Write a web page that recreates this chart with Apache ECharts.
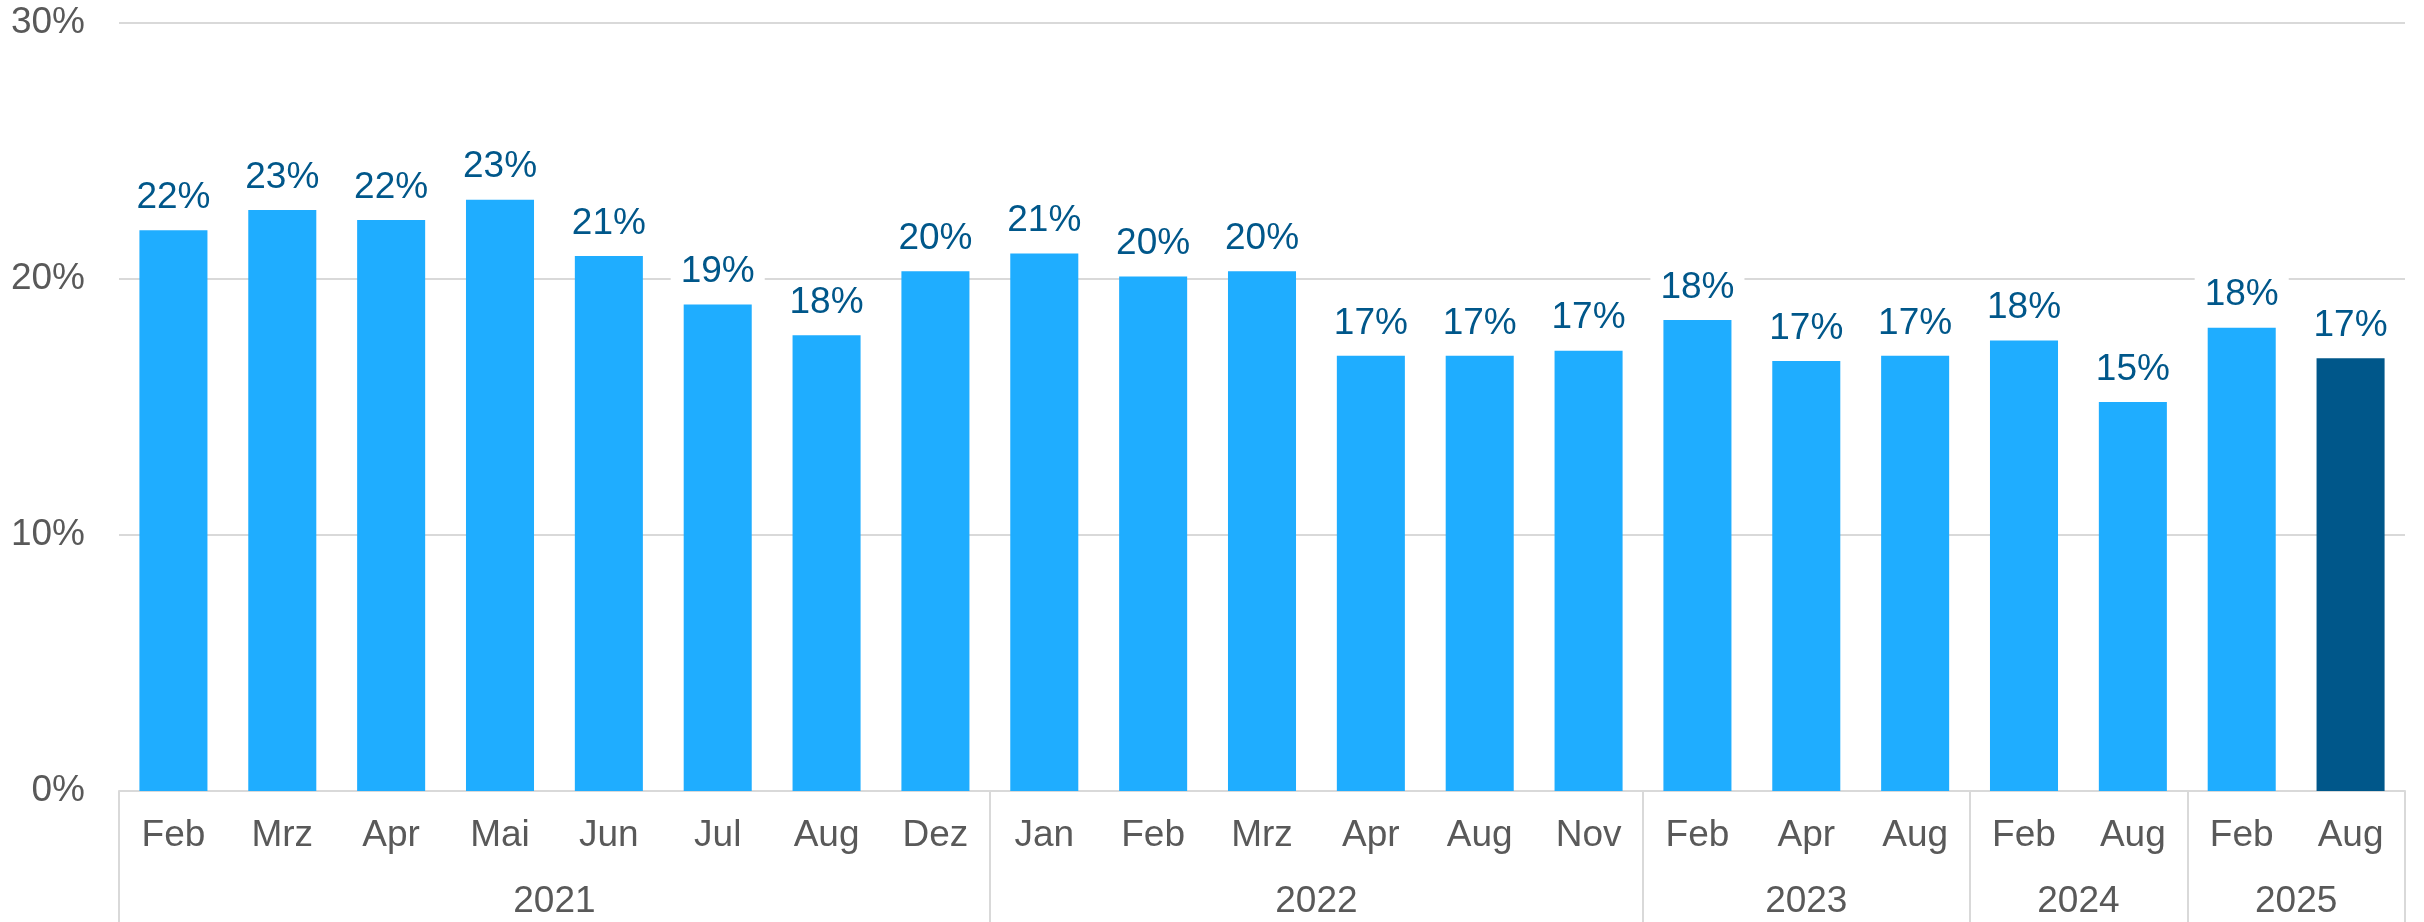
<!DOCTYPE html>
<html>
<head>
<meta charset="utf-8">
<title>Chart</title>
<script src="https://cdn.jsdelivr.net/npm/echarts@6.0.0/dist/echarts.min.js"></script>
<style>
  html, body { margin: 0; padding: 0; background: #fff; }
  #main { width: 2424px; height: 922px; }
</style>
</head>
<body>
<div id="main"></div>
<script>
// Monate (untere Achse) und Werte in %
var months = ['Feb', 'Mrz', 'Apr', 'Mai', 'Jun', 'Jul', 'Aug', 'Dez',
  'Jan', 'Feb', 'Mrz', 'Apr', 'Aug', 'Nov',
  'Feb', 'Apr', 'Aug',
  'Feb', 'Aug',
  'Feb', 'Aug'];
var values = [21.9, 22.7, 22.3, 23.1, 20.9, 19.0, 17.8, 20.3,
  21.0, 20.1, 20.3, 17.0, 17.0, 17.2,
  18.4, 16.8, 17.0,
  17.6, 15.2,
  18.1, 16.9];
var years = ['2021', '2022', '2023', '2024', '2025'];
var yearSpans = [8, 6, 3, 2, 2];
var yTicks = [0, 10, 20, 30];

var LIGHT = '#1FADFF';
var DARK = '#00578A';
var GREY_TEXT = '#595959';
var GREY_LINE = '#D9D9D9';
var FONT = "'Liberation Sans', Arial, sans-serif";
var FS = 37;

// Jahresgrenzen und -mitten auf der 0..n Werteachse
var bounds = [0];
var centers = [];
yearSpans.forEach(function (s, i) {
  centers.push(bounds[i] + s / 2);
  bounds.push(bounds[i] + s);
});

var barData = values.map(function (v, i) {
  return {
    value: v,
    itemStyle: { color: i === values.length - 1 ? DARK : LIGHT }
  };
});

var myChart = echarts.init(document.getElementById('main'));
var option = {
  animation: false,
  grid: { left: 119, right: 19, top: 23, bottom: 131 },
  xAxis: [{
    type: 'category',
    data: months,
    axisLine: { lineStyle: { color: GREY_LINE, width: 2 } },
    axisTick: { show: false },
    axisLabel: {
      color: GREY_TEXT, fontFamily: FONT, fontSize: FS, margin: 26, interval: 0
    }
  }, {
    type: 'value',
    position: 'bottom',
    min: 0,
    max: months.length,
    axisLine: { show: false },
    splitLine: { show: false },
    axisTick: {
      show: true,
      customValues: bounds,
      length: 131,
      lineStyle: { color: GREY_LINE, width: 2 }
    },
    axisLabel: {
      customValues: centers,
      color: GREY_TEXT, fontFamily: FONT, fontSize: FS, margin: 92,
      formatter: function (v) {
        var idx = centers.indexOf(v);
        return idx >= 0 ? years[idx] : '';
      }
    }
  }],
  yAxis: {
    type: 'value',
    min: yTicks[0],
    max: yTicks[yTicks.length - 1],
    interval: 10,
    axisLine: { show: false },
    axisTick: { show: false },
    splitLine: { lineStyle: { color: GREY_LINE, width: 2 } },
    axisLabel: {
      color: GREY_TEXT, fontFamily: FONT, fontSize: FS, margin: 34,
      formatter: '{value}%'
    }
  },
  series: [{
    type: 'bar',
    xAxisIndex: 0,
    data: barData,
    barCategoryGap: '37.5%',
    label: {
      show: true,
      position: 'top',
      distance: 12,
      color: DARK,
      fontFamily: FONT,
      fontSize: FS,
      backgroundColor: '#fff',
      padding: [4, 10, 2, 10],
      formatter: function (p) { return Math.round(p.value) + '%'; }
    }
  }]
};
myChart.setOption(option);
</script>
</body>
</html>
